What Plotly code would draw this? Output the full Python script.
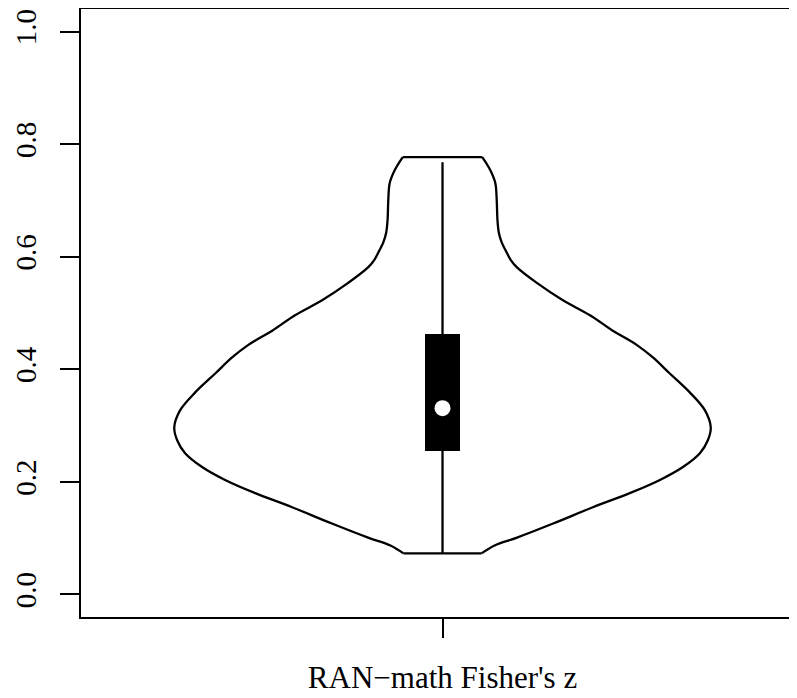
import plotly.graph_objects as go

# ---- data ----
category = ["RAN\u2212math Fisher's z"]
# violin outline: y values (top -> bottom) and half-widths in x-data units
outline_y = [0.777, 0.754, 0.731, 0.700, 0.665, 0.642, 0.625, 0.612, 0.595, 0.581, 0.553,
             0.523, 0.496, 0.469, 0.443, 0.421, 0.393, 0.359, 0.327, 0.297, 0.274,
             0.251, 0.226, 0.203, 0.180, 0.155, 0.126, 0.101, 0.087, 0.073]
outline_hw = [0.055, 0.066, 0.073, 0.075, 0.076, 0.078, 0.082, 0.087, 0.094, 0.103, 0.131,
              0.166, 0.204, 0.235, 0.269, 0.291, 0.314, 0.342, 0.363, 0.371, 0.367,
              0.356, 0.332, 0.300, 0.259, 0.208, 0.153, 0.103, 0.072, 0.054]
q1, median, q3 = 0.255, 0.331, 0.462
whisker_low, whisker_high = 0.073, 0.768
y_ticks = [0.0, 0.2, 0.4, 0.6, 0.8, 1.0]
y_tick_labels = ["0.0", "0.2", "0.4", "0.6", "0.8", "1.0"]

center = 1.0
FONT = "Times New Roman"
LW = 2.3

fig = go.Figure()

right_x = [center + w for w in outline_hw]
left_x = [center - w for w in outline_hw]

for xs in (right_x, left_x):
    fig.add_trace(go.Scatter(x=xs, y=outline_y, mode="lines",
                             line=dict(color="black", width=LW, shape="spline", smoothing=1.0),
                             hoverinfo="skip", showlegend=False))
fig.add_trace(go.Scatter(x=[left_x[0], right_x[0]], y=[outline_y[0], outline_y[0]], mode="lines",
                         line=dict(color="black", width=LW), hoverinfo="skip", showlegend=False))
fig.add_trace(go.Scatter(x=[left_x[-1], right_x[-1]], y=[outline_y[-1], outline_y[-1]], mode="lines",
                         line=dict(color="black", width=LW), hoverinfo="skip", showlegend=False))

fig.add_trace(go.Scatter(x=[center, center], y=[whisker_low, whisker_high], mode="lines",
                         line=dict(color="black", width=LW), hoverinfo="skip", showlegend=False))
fig.add_trace(go.Bar(x=[center], y=[q3 - q1], base=[q1], width=0.049,
                     marker=dict(color="black", line=dict(width=0)),
                     hoverinfo="skip", showlegend=False))
fig.add_trace(go.Scatter(x=[center], y=[median], mode="markers",
                         marker=dict(color="white", size=16, line=dict(width=0)),
                         hoverinfo="skip", showlegend=False))

# page body has an 8px margin, so the figure is 789x690 placed at (8, 8)
fig.update_layout(
    width=789, height=690,
    margin=dict(l=73, r=0, t=1, b=81, autoexpand=False),
    paper_bgcolor="white", plot_bgcolor="white",
    font=dict(family=FONT, size=29, color="black"),
    showlegend=False,
    bargap=0,
)
fig.update_xaxes(
    range=[0.5, 1.4903], automargin=False,
    tickmode="array", tickvals=[center], ticktext=category,
    ticks="outside", ticklen=19, tickwidth=2, tickcolor="black",
    ticklabelstandoff=13, ticklabeloverflow="allow",
    showline=True, linecolor="black", linewidth=2, mirror=True,
    showgrid=False, zeroline=False,
    tickfont=dict(family=FONT, size=31, color="black"),
)
fig.update_yaxes(
    range=[-0.04, 1.04], automargin=False,
    tickmode="array", tickvals=y_ticks, ticktext=y_tick_labels,
    tickangle=-90,
    ticks="outside", ticklen=19, tickwidth=2, tickcolor="black",
    ticklabelstandoff=12, ticklabeloverflow="allow",
    showline=True, linecolor="black", linewidth=2, mirror=False,
    showgrid=False, zeroline=False,
    tickfont=dict(family=FONT, size=29, color="black"),
)

fig.write_html("out.html")
